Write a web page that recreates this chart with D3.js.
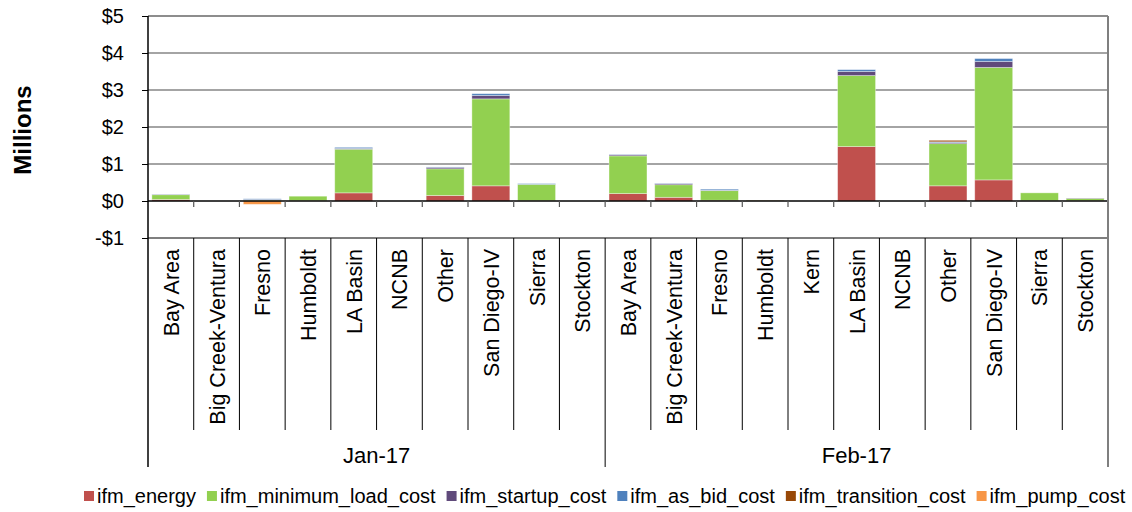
<!DOCTYPE html>
<html>
<head>
<meta charset="utf-8">
<script src="https://cdn.jsdelivr.net/npm/d3@7"></script>
<style>
  html, body { margin: 0; padding: 0; background: #fff; }
  svg { display: block; font-family: "Liberation Sans", Arial, sans-serif; }
</style>
</head>
<body>
<svg id="chart" width="1132" height="512"></svg>
<script>
// ---------------- DATA ----------------
const groups = ["Jan-17", "Feb-17"];
const janRegions = ["Bay Area", "Big Creek-Ventura", "Fresno", "Humboldt", "LA Basin", "NCNB", "Other", "San Diego-IV", "Sierra", "Stockton"];
const febRegions = ["Bay Area", "Big Creek-Ventura", "Fresno", "Humboldt", "Kern", "LA Basin", "NCNB", "Other", "San Diego-IV", "Sierra", "Stockton"];
const seriesNames = ["ifm_energy", "ifm_minimum_load_cost", "ifm_startup_cost", "ifm_as_bid_cost", "ifm_transition_cost", "ifm_pump_cost"];
const seriesColors = ["#C0504D", "#92D050", "#604A7B", "#4F81BD", "#984807", "#F79646"];
// values in $ millions, Jan-17 then Feb-17
const ifm_energy            = [0.04, 0, 0.01, 0.01, 0.22, 0, 0.15, 0.41, 0.01, 0,
                               0.20, 0.10, 0.02, 0.01, 0, 1.47, 0, 0.41, 0.57, 0.01, 0.01];
const ifm_minimum_load_cost = [0.13, 0, 0.02, 0.12, 1.18, 0, 0.72, 2.35, 0.44, 0,
                               1.02, 0.34, 0.26, 0.01, 0, 1.92, 0, 1.14, 3.04, 0.21, 0.06];
const ifm_startup_cost      = [0.01, 0, 0.01, 0, 0.02, 0, 0.04, 0.09, 0, 0,
                               0.03, 0.03, 0.01, 0, 0, 0.11, 0, 0.03, 0.16, 0, 0.01];
const ifm_as_bid_cost       = [0.005, 0, 0.02, 0, 0.03, 0, 0.01, 0.05, 0.02, 0,
                               0.01, 0.01, 0.03, 0, 0, 0.05, 0, 0.02, 0.08, 0, 0];
const ifm_transition_cost   = [0, 0, 0, 0, 0, 0, 0, 0, 0, 0,
                               0, 0, 0, 0.005, 0, 0, 0, 0.04, 0, 0, 0];
const ifm_pump_cost         = [0, 0, -0.09, 0, 0, 0, 0, 0, 0, 0,
                               0, 0, 0, 0, 0, 0, 0, 0, 0, 0, 0];
const yTicks = [-1, 0, 1, 2, 3, 4, 5];

// ---------------- BUILD TABLE ----------------
const seriesValues = [ifm_energy, ifm_minimum_load_cost, ifm_startup_cost, ifm_as_bid_cost, ifm_transition_cost, ifm_pump_cost];
const cats = [];
janRegions.forEach(r => cats.push({group: groups[0], region: r}));
febRegions.forEach(r => cats.push({group: groups[1], region: r}));
const table = cats.map((c, i) => {
  const row = {idx: i};
  seriesNames.forEach((s, k) => row[s] = seriesValues[k][i]);
  return row;
});

// ---------------- LAYOUT ----------------
const svg = d3.select("#chart");
const L = 148, R = 1108, T = 16, B = 238;
const catBottom = 430, groupBottom = 467;

const x = d3.scaleBand().domain(d3.range(cats.length)).range([L, R])
  .paddingInner(0.17).paddingOuter(0.085);
const step = x.step();
const y = d3.scaleLinear().domain([-1, 5]).range([B, T]);

// gridlines
svg.append("g").selectAll("line").data(yTicks.filter(t => t > 0)).join("line")
  .attr("x1", L).attr("x2", R).attr("y1", d => y(d)).attr("y2", d => y(d))
  .attr("stroke", "#868686").attr("stroke-width", 1.5);

// stacked bars
const stack = d3.stack().keys(seriesNames).offset(d3.stackOffsetDiverging);
const stacked = stack(table);
const color = d3.scaleOrdinal().domain(seriesNames).range(seriesColors);
svg.append("g").selectAll("g").data(stacked).join("g")
  .attr("fill", d => color(d.key))
  .selectAll("rect").data(d => d.filter(p => p[1] !== p[0])).join("rect")
  .attr("x", d => x(d.data.idx))
  .attr("width", x.bandwidth())
  .attr("y", d => y(Math.max(d[0], d[1])))
  .attr("height", d => Math.abs(y(d[0]) - y(d[1])))
  .attr("stroke", "rgba(255,255,255,0.45)").attr("stroke-width", 0.8);

// zero line & tick marks on zero line
svg.append("line").attr("x1", L).attr("x2", R).attr("y1", y(0)).attr("y2", y(0))
  .attr("stroke", "#000").attr("stroke-width", 1.5);
svg.append("g").selectAll("line").data(d3.range(1, cats.length)).join("line")
  .attr("x1", i => L + i * step).attr("x2", i => L + i * step)
  .attr("y1", y(0)).attr("y2", y(0) + 6)
  .attr("stroke", "#555").attr("stroke-width", 1.2);

// bottom category axis structure
svg.append("line").attr("x1", L).attr("x2", R).attr("y1", B).attr("y2", B)
  .attr("stroke", "#000").attr("stroke-width", 1.2);
svg.append("g").selectAll("line").data(d3.range(1, cats.length)).join("line")
  .attr("x1", i => L + i * step).attr("x2", i => L + i * step)
  .attr("y1", B).attr("y2", i => i === janRegions.length ? groupBottom : catBottom)
  .attr("stroke", "#000").attr("stroke-width", 1);

// right border
svg.append("line").attr("x1", R).attr("x2", R).attr("y1", T).attr("y2", groupBottom)
  .attr("stroke", "#7f7f7f").attr("stroke-width", 2);

// top gridline at $5
svg.append("line").attr("x1", L).attr("x2", R).attr("y1", y(5)).attr("y2", y(5))
  .attr("stroke", "#868686").attr("stroke-width", 1.5);

// y axis
const yAxis = d3.axisLeft(y).tickValues(yTicks).tickSize(6).tickPadding(18)
  .tickFormat(d => (d < 0 ? "-$" : "$") + Math.abs(d));
const yg = svg.append("g").attr("transform", `translate(${L},0)`).call(yAxis);
yg.select(".domain").remove();
yg.selectAll(".tick line").attr("stroke", "#000");
yg.selectAll(".tick text").attr("font-size", 20).attr("fill", "#000")
  .attr("font-family", "Liberation Sans, Arial, sans-serif");
svg.append("line").attr("x1", L).attr("x2", L).attr("y1", T).attr("y2", groupBottom)
  .attr("stroke", "#000").attr("stroke-width", 1.5);

// category labels
svg.append("g").selectAll("text").data(cats).join("text")
  .attr("transform", (d, i) => `translate(${x(i) + x.bandwidth() / 2 + 8},${B + 11}) rotate(-90)`)
  .attr("text-anchor", "end")
  .attr("font-size", 21.5)
  .attr("fill", "#000")
  .text(d => d.region);

// group labels
const groupSpans = [[0, janRegions.length], [janRegions.length, cats.length]];
svg.append("g").selectAll("text").data(groups).join("text")
  .attr("x", (d, k) => L + (groupSpans[k][0] + groupSpans[k][1]) / 2 * step)
  .attr("y", 463)
  .attr("text-anchor", "middle")
  .attr("font-size", 22)
  .attr("fill", "#000")
  .text(d => d);

// y title
svg.append("text")
  .attr("transform", `translate(31,${(T + B) / 2 + 3}) rotate(-90)`)
  .attr("text-anchor", "middle")
  .attr("font-size", 24).attr("font-weight", "bold")
  .text("Millions");

// legend
const legend = svg.append("g").attr("transform", "translate(84,496)");
let lx = 0;
seriesNames.forEach((s, k) => {
  const g = legend.append("g").attr("transform", `translate(${lx},0)`);
  g.append("rect").attr("x", 0).attr("y", -5).attr("width", 10).attr("height", 10).attr("fill", seriesColors[k]);
  const t = g.append("text").attr("x", 13).attr("y", 7).attr("font-size", 20).attr("fill", "#000").text(s);
  lx += 13 + t.node().getComputedTextLength() + 11;
});
</script>
</body>
</html>
